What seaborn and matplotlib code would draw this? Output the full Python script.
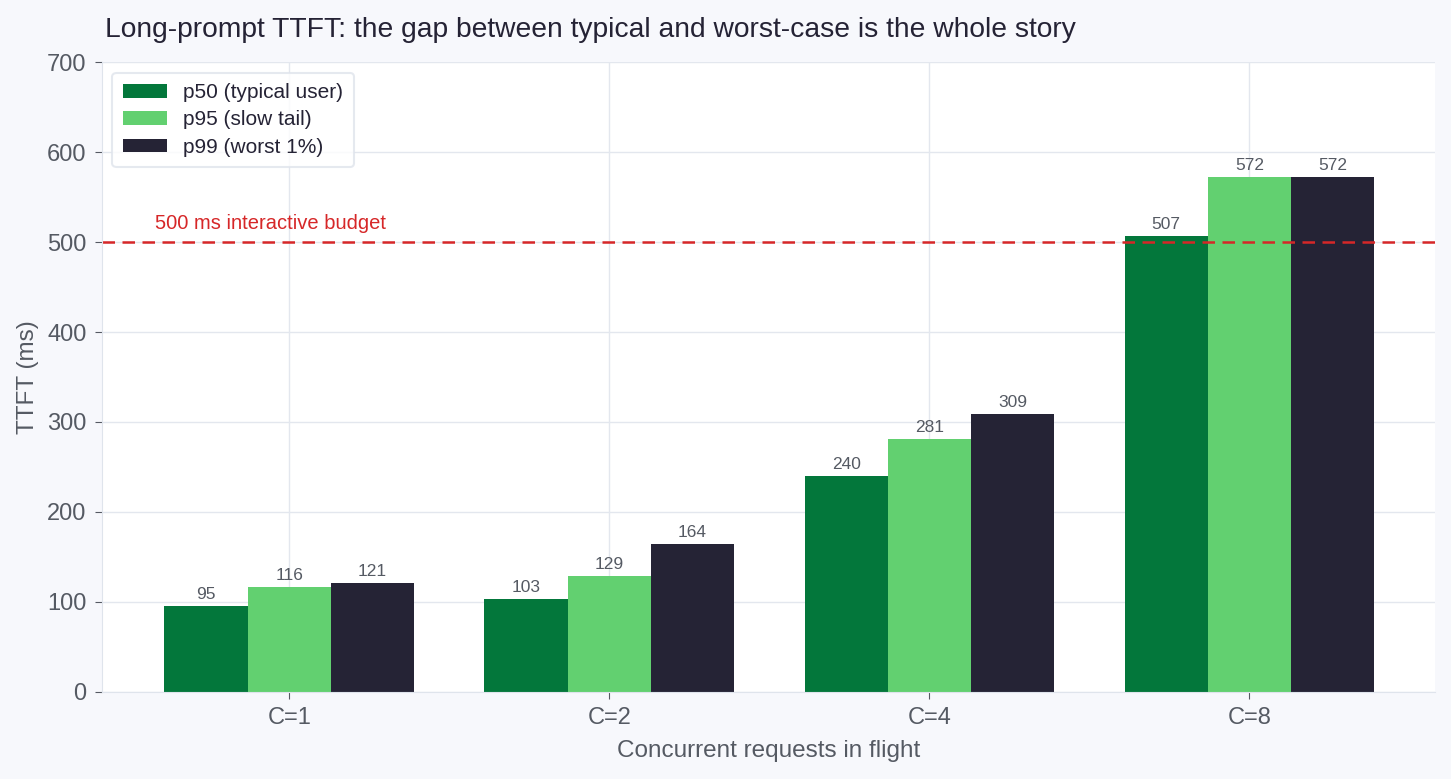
import pandas as pd
import numpy as np
import matplotlib.pyplot as plt
import seaborn as sns

concurrency = ['C=1', 'C=2', 'C=4', 'C=8']
p50 = [95, 103, 240, 507]
p95 = [116, 129, 281, 572]
p99 = [121, 164, 309, 572]
series_names = ['p50 (typical user)', 'p95 (slow tail)', 'p99 (worst 1%)']
budget_ms = 500

df = pd.DataFrame({
    'conc': concurrency * 3,
    'ttft': p50 + p95 + p99,
    'series': [s for s in series_names for _ in concurrency],
})

sns.set_style('whitegrid')
plt.rcParams['font.family'] = ['Liberation Sans', 'DejaVu Sans']

fig, ax = plt.subplots(figsize=(14.51, 7.79), dpi=100)
fig.patch.set_facecolor('#f7f8fc')
ax.set_facecolor('white')
fig.subplots_adjust(left=0.0703, right=0.989, top=0.920, bottom=0.112)

colors = ['#03773b', '#62d070', '#252335']
sns.barplot(data=df, x='conc', y='ttft', hue='series', palette=colors,
            width=0.78, saturation=1, linewidth=0, ax=ax)

for cont in ax.containers:
    ax.bar_label(cont, fmt='%d', padding=3, fontsize=12.5, color='#555a63')

ax.axhline(budget_ms, color='#d62728', ls='--', lw=1.8, dashes=(5, 3))
ax.text(-0.42, budget_ms + 10, '500 ms interactive budget', color='#d62728',
        fontsize=14.5, va='bottom')

ax.set_ylim(0, 700)
ax.set_xlim(-0.585, 3.58)
ax.set_yticks(range(0, 701, 100))
ax.grid(True, color='#e3e7ee', lw=1)
for s in ['top', 'right']:
    ax.spines[s].set_visible(False)
for s in ['left', 'bottom']:
    ax.spines[s].set_color('#dfe4ec')
ax.tick_params(axis='both', labelsize=17, colors='#555a63', length=5, pad=6,
               color='#555a63', left=True, bottom=True)
ax.set_xlabel('Concurrent requests in flight', fontsize=17.5, color='#555a63',
              labelpad=8)
ax.set_ylabel('TTFT (ms)', fontsize=17.5, color='#555a63', labelpad=6)
ax.set_title('Long-prompt TTFT: the gap between typical and worst-case is the whole story',
             loc='left', fontsize=20.3, color='#252335', pad=18, x=0.002)

leg = ax.legend(loc='upper left', fontsize=15, frameon=True, title=None,
                handlelength=2.1, handleheight=0.65, labelspacing=0.4,
                borderpad=0.5, fancybox=True)
leg.get_frame().set_edgecolor('#dfe4ec')
leg.get_frame().set_linewidth(1.5)
for t in leg.get_texts():
    t.set_color('#252335')

plt.savefig('out.png', dpi=100, facecolor=fig.get_facecolor())
